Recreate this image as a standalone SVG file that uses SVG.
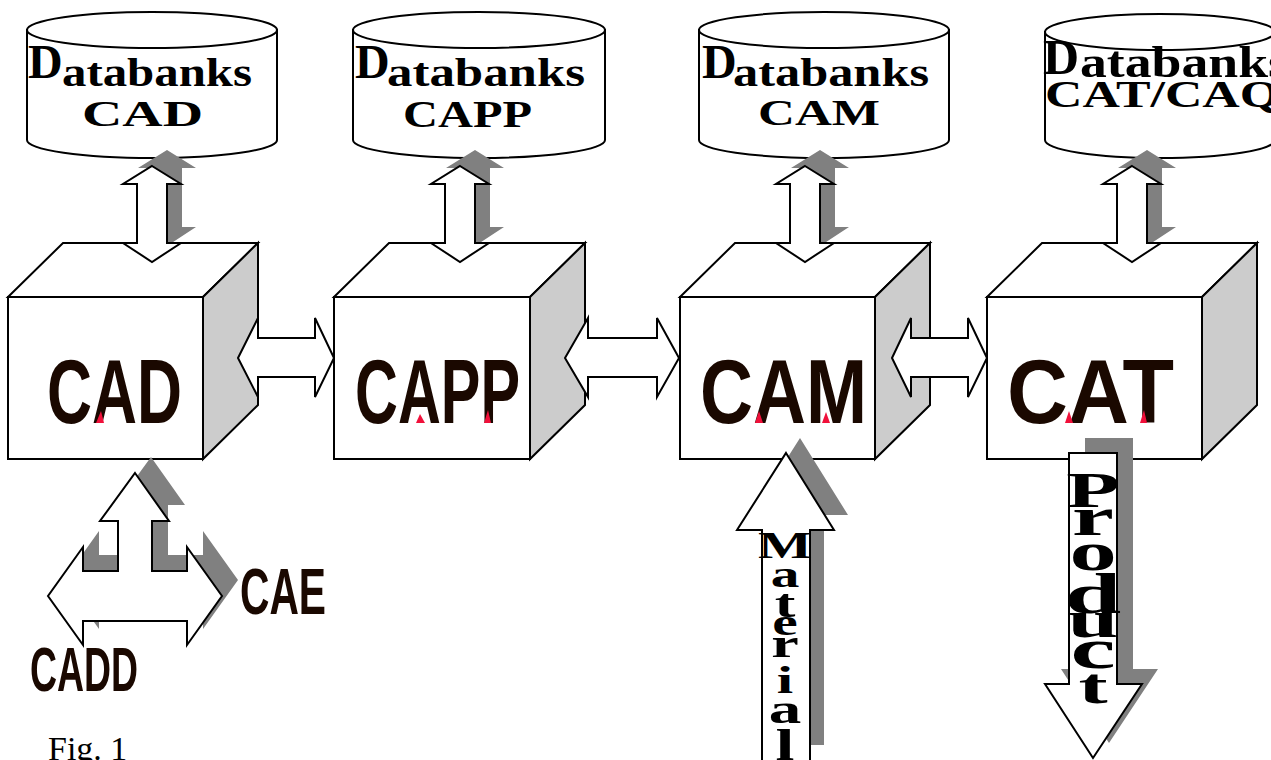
<svg xmlns="http://www.w3.org/2000/svg" width="1271" height="760" viewBox="0 0 1271 760">
  <style>
    .ln { fill: #ffffff; stroke: #000000; stroke-width: 2; stroke-linejoin: miter; }
    .side { fill: #cccccc; stroke: #000000; stroke-width: 2; }
    .shd { fill: #808080; stroke: none; }
    .db { font-family: "Liberation Serif", "Times New Roman", serif; font-weight: bold; fill: #000000; }
    .lbl { font-family: "Liberation Sans", Arial, sans-serif; font-weight: bold; fill: #1a0800; }
    .red { fill: #f0103a; }
    .vt { font-family: "Liberation Serif", "Times New Roman", serif; font-weight: bold; fill: #000000; text-anchor: middle; }
    .cap { font-family: "Liberation Serif", "Times New Roman", serif; fill: #000000; }
  </style>

  <!-- databank cylinders -->
  <g id="db-cad">
    <path class="ln" stroke-width="2.5" d="M27,30 L27,140 A125,18 0 0 0 277,140 L277,30 Z"/>
    <ellipse class="ln" stroke-width="2.5" cx="152" cy="30" rx="125" ry="18"/>
    <text class="db" x="28" y="78" font-size="48">D</text>
    <text class="db" x="62" y="86" font-size="40" textLength="190" lengthAdjust="spacingAndGlyphs">atabanks</text>
    <text class="db" x="82" y="126" font-size="35" textLength="121" lengthAdjust="spacingAndGlyphs">CAD</text>
  </g>
  <g id="db-capp">
    <path class="ln" stroke-width="2.5" d="M353,30 L353,140 A126,18 0 0 0 605,140 L605,30 Z"/>
    <ellipse class="ln" stroke-width="2.5" cx="479" cy="30" rx="126" ry="18"/>
    <text class="db" x="355" y="78" font-size="48">D</text>
    <text class="db" x="387" y="86" font-size="40" textLength="198" lengthAdjust="spacingAndGlyphs">atabanks</text>
    <text class="db" x="403" y="127" font-size="37" textLength="129" lengthAdjust="spacingAndGlyphs">CAPP</text>
  </g>
  <g id="db-cam">
    <path class="ln" stroke-width="2.5" d="M699,30 L699,140 A125,18 0 0 0 949,140 L949,30 Z"/>
    <ellipse class="ln" stroke-width="2.5" cx="824" cy="30" rx="125" ry="18"/>
    <text class="db" x="702" y="78" font-size="48">D</text>
    <text class="db" x="733" y="86" font-size="40" textLength="196" lengthAdjust="spacingAndGlyphs">atabanks</text>
    <text class="db" x="758" y="125" font-size="35" textLength="122" lengthAdjust="spacingAndGlyphs">CAM</text>
  </g>
  <g id="db-cat">
    <path class="ln" stroke-width="2.5" d="M1045,32 L1045,140 A115,18 0 0 0 1275,140 L1275,32 Z"/>
    <ellipse class="ln" stroke-width="2.5" cx="1160" cy="32" rx="115" ry="18"/>
    <text class="db" x="1043" y="74" font-size="50">D</text>
    <text class="db" x="1080" y="77" font-size="44" textLength="209" lengthAdjust="spacingAndGlyphs">atabanks</text>
    <text class="db" x="1045" y="107" font-size="38" textLength="235" lengthAdjust="spacingAndGlyphs">CAT/CAQ</text>
  </g>

  <!-- shadows of the databank links -->
  <g id="link-shadows">
    <polygon class="shd" transform="translate(167,-16)" points="0,166 29,184 15,184 15,243 29,243 0,262 -29,243 -15,243 -15,184 -29,184"/>
    <polygon class="shd" transform="translate(475,-16)" points="0,166 29,184 15,184 15,243 29,243 0,262 -29,243 -15,243 -15,184 -29,184"/>
    <polygon class="shd" transform="translate(820,-16)" points="0,166 29,184 15,184 15,243 29,243 0,262 -29,243 -15,243 -15,184 -29,184"/>
    <polygon class="shd" transform="translate(1147,-16)" points="0,166 29,184 15,184 15,243 29,243 0,262 -29,243 -15,243 -15,184 -29,184"/>
  </g>

  <!-- process blocks -->
  <g id="box-cad">
    <rect class="ln" x="8" y="297" width="195" height="162"/>
    <polygon class="ln" points="8,297 63,243 258,243 203,297"/>
    <polygon class="side" points="203,297 258,243 258,405 203,459"/>
  </g>
  <g id="box-capp">
    <rect class="ln" x="334" y="297" width="196" height="162"/>
    <polygon class="ln" points="334,297 389,243 585,243 530,297"/>
    <polygon class="side" points="530,297 585,243 585,405 530,459"/>
  </g>
  <g id="box-cam">
    <rect class="ln" x="680" y="297" width="195" height="162"/>
    <polygon class="ln" points="680,297 735,243 930,243 875,297"/>
    <polygon class="side" points="875,297 930,243 930,405 875,459"/>
  </g>
  <g id="box-cat">
    <rect class="ln" x="987" y="297" width="215" height="162"/>
    <polygon class="ln" points="987,297 1042,243 1257,243 1202,297"/>
    <polygon class="side" points="1202,297 1257,243 1257,405 1202,459"/>
  </g>

  <g id="connectors">
    <!-- databank links -->
    <polygon class="ln" transform="translate(152,0)" points="0,166 29,184 15,184 15,243 29,243 0,262 -29,243 -15,243 -15,184 -29,184"/>
    <polygon class="ln" transform="translate(460,0)" points="0,166 29,184 15,184 15,243 29,243 0,262 -29,243 -15,243 -15,184 -29,184"/>
    <polygon class="ln" transform="translate(805,0)" points="0,166 29,184 15,184 15,243 29,243 0,262 -29,243 -15,243 -15,184 -29,184"/>
    <polygon class="ln" transform="translate(1132,0)" points="0,166 29,184 15,184 15,243 29,243 0,262 -29,243 -15,243 -15,184 -29,184"/>

    <!-- links between blocks -->
    <polygon class="ln" points="238,358 258,318 258,338 315,338 315,318 334,358 315,397 315,377 258,377 258,397"/>
    <polygon class="ln" points="565,358 588,318 588,338 657,338 657,318 679,358 657,397 657,377 588,377 588,397"/>
    <polygon class="ln" points="892,358 911,318 911,338 968,338 968,318 987,358 968,397 968,377 911,377 911,397"/>

    <!-- CAE / CADD three-way link -->
    <polygon class="shd" transform="translate(16,-16)" points="135,473 169,521 152,521 152,571 187,571 187,547 222,596 187,645 187,621 83,621 83,645 48,596 83,547 83,571 118,571 118,521 100,521"/>
    <polygon class="ln" points="135,473 169,521 152,521 152,571 187,571 187,547 222,596 187,645 187,621 83,621 83,645 48,596 83,547 83,571 118,571 118,521 100,521"/>

    <!-- material in -->
    <polygon class="shd" points="800,438 848,515 824,515 824,745 776,745 776,515 751,515"/>
    <polygon class="ln" points="786,453 834,530 810,530 810,764 762,764 762,530 737,530"/>

    <!-- product out -->
    <polygon class="shd" points="1085,438 1133,438 1133,669 1158,669 1109,743 1061,669 1085,669"/>
    <polygon class="ln" points="1069,453 1117,453 1117,684 1142,684 1093,758 1045,684 1069,684"/>
  </g>

  <!-- block titles -->
  <g id="label-cad">
    <text class="lbl" x="47" y="423" font-size="91" textLength="135" lengthAdjust="spacingAndGlyphs">CAD</text>
    <polygon class="red" points="96,423 101,411 104,423"/>
  </g>
  <g id="label-capp">
    <text class="lbl" x="355" y="423" font-size="91" textLength="165" lengthAdjust="spacingAndGlyphs">CAPP</text>
    <polygon class="red" points="416,423 420,414 425,423"/>
    <polygon class="red" points="484,423 488,410 491,423"/>
  </g>
  <g id="label-cam">
    <text class="lbl" x="700" y="423" font-size="91" textLength="167" lengthAdjust="spacingAndGlyphs">CAM</text>
    <polygon class="red" points="755,423 759,411 763,423"/>
    <polygon class="red" points="822,423 826,412 830,423"/>
  </g>
  <g id="label-cat">
    <text class="lbl" x="1007" y="423" font-size="91" textLength="167" lengthAdjust="spacingAndGlyphs">CAT</text>
    <polygon class="red" points="1065,423 1069,411 1073,423"/>
    <polygon class="red" points="1140,423 1144,410 1147,423"/>
  </g>
  <g id="label-cae">
    <text class="lbl" x="240" y="614" font-size="64" textLength="86" lengthAdjust="spacingAndGlyphs">CAE</text>
  </g>
  <g id="label-cadd">
    <text class="lbl" x="30" y="691" font-size="63" textLength="108" lengthAdjust="spacingAndGlyphs">CADD</text>
  </g>

  <!-- vertical arrow captions: one letter per line, stretched sideways -->
  <g id="label-material">
    <text class="vt" transform="translate(785,0) scale(1.55,1)"><tspan x="0" y="558" font-size="37">M</tspan><tspan x="0" y="587" font-size="37">a</tspan><tspan x="0" y="617" font-size="40">t</tspan><tspan x="0" y="635" font-size="37">e</tspan><tspan x="0" y="657" font-size="40">r</tspan><tspan x="0" y="693" font-size="38">i</tspan><tspan x="0" y="723" font-size="42">a</tspan><tspan x="0" y="760" font-size="44">l</tspan></text>
  </g>
  <g id="label-product">
    <text class="vt" transform="translate(1093,0) scale(1.75,1)"><tspan x="0" y="507" font-size="50">P</tspan><tspan x="0" y="535" font-size="54">r</tspan><tspan x="0" y="570" font-size="54">o</tspan><tspan x="0" y="613" font-size="58">d</tspan><tspan x="0" y="637" font-size="52">u</tspan><tspan x="0" y="668" font-size="58">c</tspan><tspan x="0" y="703" font-size="50">t</tspan></text>
  </g>

  <text class="cap" x="48" y="760" font-size="34">Fig. 1</text>
</svg>
